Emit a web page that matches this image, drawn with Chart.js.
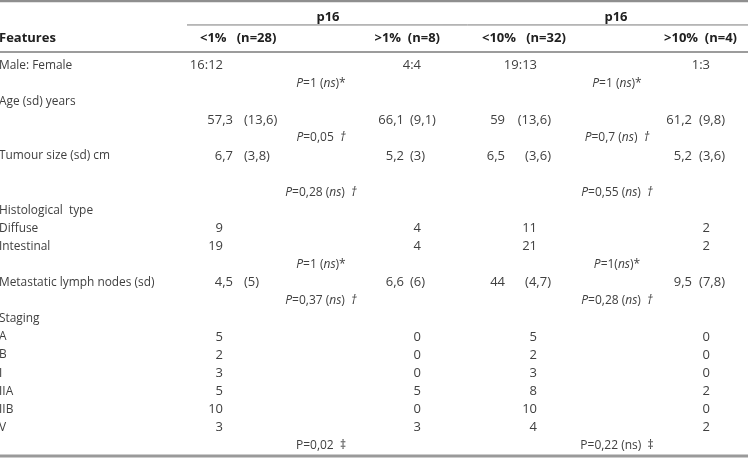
<!DOCTYPE html>
<html>
<head>
<meta charset="utf-8">
<script src="https://cdn.jsdelivr.net/npm/chart.js@4/dist/chart.umd.min.js"></script>
<style>
  html, body { margin: 0; padding: 0; background: #ffffff; }
  #wrap { width: 748px; height: 458px; position: relative; }
</style>
</head>
<body>
<div id="wrap"><canvas id="c" width="748" height="458"></canvas></div>
<script>
// ---------- DATA ----------
const stubHeader = "Features";
const groupHeaders = ["p16", "p16"];
const columnHeaders = ["<1%   (n=28)", ">1%  (n=8)", "<10%   (n=32)", ">10%  (n=4)"];

const rowLabels = ["Male: Female", "", "Age (sd) years", "", "", "Tumour size (sd) cm", "", "",
  "Histological  type", "Diffuse", "Intestinal", "", "Metastatic lymph nodes (sd)", "", "Staging",
  "A", "B", "I", "IIA", "IIB", "V", ""];

const sexRatio = ["16:12", "4:4", "19:13", "1:3"];
const ageMean = ["57,3", "66,1", "59", "61,2"];
const ageSd = ["(13,6)", "(9,1)", "(13,6)", "(9,8)"];
const tumourMean = ["6,7", "5,2", "6,5", "5,2"];
const tumourSd = ["(3,8)", "(3)", "(3,6)", "(3,6)"];
const diffuse = [9, 4, 11, 2];
const intestinal = [19, 4, 21, 2];
const nodesMean = ["4,5", "6,6", "44", "9,5"];
const nodesSd = ["(5)", "(6)", "(4,7)", "(7,8)"];
const stagingLt1 = [5, 2, 3, 5, 10, 3];
const stagingGt1 = [0, 0, 0, 5, 0, 3];
const stagingLt10 = [5, 2, 3, 8, 10, 4];
const stagingGt10 = [0, 0, 0, 2, 0, 2];

const pSex = ["P=1 (ns)*", "P=1 (ns)*"];
const pAge = ["P=0,05  †", "P=0,7 (ns)  †"];
const pTumour = ["P=0,28 (ns)  †", "P=0,55 (ns)  †"];
const pHist = ["P=1 (ns)*", "P=1(ns)*"];
const pNodes = ["P=0,37 (ns)  †", "P=0,28 (ns)  †"];
const pStaging = ["P=0,02  ‡", "P=0,22 (ns)  ‡"];

// ---------- LAYOUT (positions in scale units) ----------
const ROW = { sex: 0, pSex: 1, ageLbl: 2, age: 3, pAge: 4, tumour: 5, pTumour: 7, hist: 8,
  diffuse: 9, intestinal: 10, pHist: 11, nodes: 12, pNodes: 13, staging: 14, stage0: 15, pStaging: 21 };
const Y_HEAD_GROUP = -2.65, Y_HEAD_COL = -1.5;
const Y_RULE_TOP = -3.56, Y_RULE_GROUP = -2.24, Y_RULE_HEAD = -0.75, Y_RULE_BOTTOM = 21.57;
const X_STUB = -1;
const X_COUNT = [223, 421, 537, 710];
const MEAN = [{x: 233, a: 'right'}, {x: 404, a: 'right'}, {x: 505, a: 'right'}, {x: 692, a: 'right'}];
const SD = [{x: 244, a: 'left'}, {x: 410, a: 'left'}, {x: 551, a: 'right'}, {x: 725, a: 'right'}];
const X_P = [321, 617];
const HEAD = [{x: 200, a: 'left'}, {x: 440, a: 'right'}, {x: 482, a: 'left'}, {x: 737, a: 'right'}];
const X_GROUP = [328, 616];
const X_RULE_GROUP_START = 187;

const FONT = "'Open Sans', 'DejaVu Sans', sans-serif";
const LABEL_SIZE = 11.9, NUM_SIZE = 13, P_SIZE = 12, HEAD_SIZE = 13;
const TEXT = '#404040', HEADTEXT = '#202020';

// build cells from data
const cells = [];
rowLabels.forEach((t, i) => { if (t) cells.push({row: i, x: X_STUB, a: 'left', text: t, size: LABEL_SIZE}); });
for (let c = 0; c < 4; c++) {
  const add = (row, x, a, text) => cells.push({row, x, a, text, size: NUM_SIZE});
  add(ROW.sex, X_COUNT[c], 'right', sexRatio[c]);
  add(ROW.age, MEAN[c].x, MEAN[c].a, ageMean[c]);
  add(ROW.age, SD[c].x, SD[c].a, ageSd[c]);
  add(ROW.tumour, MEAN[c].x, MEAN[c].a, tumourMean[c]);
  add(ROW.tumour, SD[c].x, SD[c].a, tumourSd[c]);
  add(ROW.diffuse, X_COUNT[c], 'right', String(diffuse[c]));
  add(ROW.intestinal, X_COUNT[c], 'right', String(intestinal[c]));
  add(ROW.nodes, MEAN[c].x, MEAN[c].a, nodesMean[c]);
  add(ROW.nodes, SD[c].x, SD[c].a, nodesSd[c]);
}
const staging = [stagingLt1, stagingGt1, stagingLt10, stagingGt10];
staging.forEach((arr, c) => arr.forEach((v, k) =>
  cells.push({row: ROW.stage0 + k, x: X_COUNT[c], a: 'right', text: String(v), size: NUM_SIZE})));
const pRows = [[ROW.pSex, pSex, true], [ROW.pAge, pAge, true], [ROW.pTumour, pTumour, true],
  [ROW.pHist, pHist, true], [ROW.pNodes, pNodes, true], [ROW.pStaging, pStaging, false]];
pRows.forEach(([r, arr, it]) => arr.forEach((t, g) =>
  cells.push({row: r, x: X_P[g], a: 'center', text: t, italic: it, size: P_SIZE})));

// ---------- PLUGIN ----------
function drawRich(ctx, text, x, y, align, italic, size) {
  const parts = italic ? text.split(/(P|ns|†)/).filter(s => s.length) : [text];
  const fonts = parts.map(p => (italic && /^(P|ns|†)$/.test(p) ? 'italic ' : '') + size + 'px ' + FONT);
  let total = 0;
  const widths = parts.map((p, i) => { ctx.font = fonts[i]; const w = ctx.measureText(p).width; total += w; return w; });
  let cx = align === 'center' ? x - total / 2 : align === 'right' ? x - total : x;
  ctx.textAlign = 'left';
  parts.forEach((p, i) => { ctx.font = fonts[i]; ctx.fillText(p, cx, y); cx += widths[i]; });
}

const tablePlugin = {
  id: 'tablePlugin',
  afterDraw(chart) {
    const {ctx, scales: {x, y}} = chart;
    ctx.save();
    ctx.textBaseline = 'middle';
    const rule = (yv, x0, x1, w, col) => {
      ctx.beginPath(); ctx.strokeStyle = col; ctx.lineWidth = w;
      const py = y.getPixelForValue(yv);
      ctx.moveTo(x.getPixelForValue(x0), py); ctx.lineTo(x.getPixelForValue(x1), py); ctx.stroke();
    };
    rule(Y_RULE_TOP, 0, 748, 2.5, '#8f8f8f');
    rule(Y_RULE_GROUP, X_RULE_GROUP_START, 748, 1, '#7a7a7a');
    rule(Y_RULE_HEAD, 0, 748, 2, '#9c9c9c');
    rule(Y_RULE_BOTTOM, 0, 748, 3, '#9a9a9a');
    ctx.fillStyle = HEADTEXT;
    ctx.font = 'bold ' + HEAD_SIZE + 'px ' + FONT;
    groupHeaders.forEach((t, g) => { ctx.textAlign = 'center';
      ctx.fillText(t, x.getPixelForValue(X_GROUP[g]), y.getPixelForValue(Y_HEAD_GROUP)); });
    ctx.textAlign = 'left';
    ctx.fillText(stubHeader, x.getPixelForValue(X_STUB), y.getPixelForValue(Y_HEAD_COL));
    columnHeaders.forEach((t, c) => { ctx.textAlign = HEAD[c].a;
      ctx.fillText(t, x.getPixelForValue(HEAD[c].x), y.getPixelForValue(Y_HEAD_COL)); });
    ctx.fillStyle = TEXT;
    cells.forEach(cell => drawRich(ctx, cell.text, x.getPixelForValue(cell.x),
      y.getPixelForValue(cell.row), cell.a, !!cell.italic, cell.size));
    ctx.restore();
  }
};

new Chart(document.getElementById('c'), {
  type: 'scatter',
  data: { datasets: [] },
  options: {
    responsive: false,
    animation: false,
    layout: { padding: 0 },
    plugins: { legend: { display: false }, tooltip: { enabled: false } },
    scales: {
      x: { type: 'linear', display: false, min: 0, max: 748 },
      y: { type: 'linear', display: false, reverse: true, min: -65.5 / 18.1, max: (458 - 65.5) / 18.1 }
    }
  },
  plugins: [tablePlugin]
});
</script>
</body>
</html>
